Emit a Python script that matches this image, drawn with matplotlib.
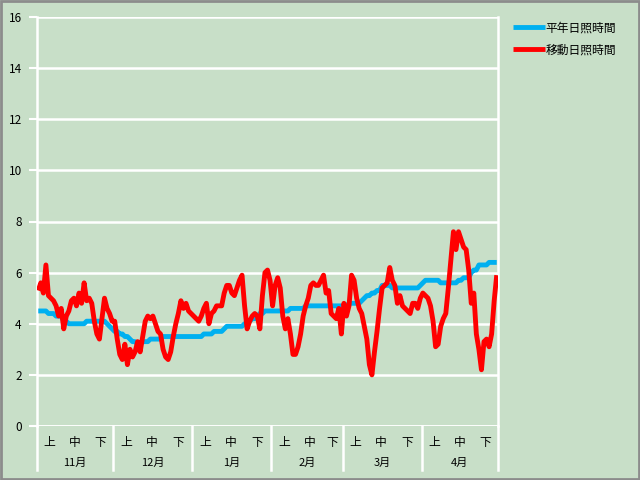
import matplotlib
matplotlib.use("Agg")
import matplotlib.pyplot as plt
import matplotlib.transforms as mtransforms
from matplotlib.patches import Rectangle
import numpy as np

plt.rcParams['font.family'] = ['Noto Sans CJK JP', 'DejaVu Sans']

months = ["11月", "12月", "1月", "2月", "3月", "4月"]
month_days = [30, 31, 31, 28, 31, 30]
dekads = ["上", "中", "下"]
series_names = ["平年日照時間", "移動日照時間"]

normal_nov = [4.5, 4.5, 4.5, 4.5, 4.4, 4.4, 4.4, 4.3, 4.3, 4.3, 4.1, 4.1, 4.0, 4.0, 4.0,
              4.0, 4.0, 4.0, 4.0, 4.1, 4.1, 4.1, 4.1, 4.1, 4.1, 4.1, 4.1, 4.0, 3.9, 3.8]
normal_dec = [3.7, 3.7, 3.6, 3.6, 3.5, 3.5, 3.4, 3.3, 3.3, 3.2, 3.2, 3.3, 3.3, 3.3, 3.4, 3.4,
              3.4, 3.4, 3.4, 3.5, 3.5, 3.5, 3.5, 3.5, 3.5, 3.5, 3.5, 3.5, 3.5, 3.5, 3.5]
normal_jan = [3.5, 3.5, 3.5, 3.5, 3.6, 3.6, 3.6, 3.6, 3.7, 3.7, 3.7, 3.7, 3.8, 3.9, 3.9, 3.9,
              3.9, 3.9, 3.9, 3.9, 4.0, 4.0, 4.1, 4.2, 4.2, 4.3, 4.4, 4.4, 4.5, 4.5, 4.5]
normal_feb = [4.5, 4.5, 4.5, 4.5, 4.5, 4.5, 4.5, 4.6, 4.6, 4.6, 4.6, 4.6, 4.6, 4.7,
              4.7, 4.7, 4.7, 4.7, 4.7, 4.7, 4.7, 4.7, 4.7, 4.7, 4.7, 4.7, 4.7, 4.7]
normal_mar = [4.7, 4.7, 4.8, 4.8, 4.8, 4.8, 4.8, 4.9, 5.0, 5.1, 5.1, 5.2, 5.2, 5.3, 5.3, 5.5,
              5.5, 5.5, 5.5, 5.4, 5.4, 5.4, 5.4, 5.4, 5.4, 5.4, 5.4, 5.4, 5.4, 5.4, 5.5]
normal_apr = [5.6, 5.7, 5.7, 5.7, 5.7, 5.7, 5.7, 5.6, 5.6, 5.6, 5.6, 5.6, 5.6, 5.6, 5.7,
              5.7, 5.8, 5.8, 5.8, 6.0, 6.1, 6.1, 6.3, 6.3, 6.3, 6.3, 6.4, 6.4, 6.4, 6.4]

moving_nov = [5.3, 5.6, 5.2, 6.3, 5.1, 5.0, 4.9, 4.7, 4.3, 4.6, 3.8, 4.3, 4.5, 4.9, 5.0,
              4.7, 5.2, 4.8, 5.6, 4.9, 5.0, 4.8, 4.1, 3.6, 3.4, 4.2, 5.0, 4.6, 4.4, 4.1]
moving_dec = [4.1, 3.4, 2.8, 2.6, 3.2, 2.4, 3.0, 2.7, 2.9, 3.3, 2.9, 3.5, 4.1, 4.3, 4.2, 4.3,
              4.0, 3.7, 3.6, 3.0, 2.7, 2.6, 2.9, 3.5, 4.0, 4.4, 4.9, 4.6, 4.8, 4.5, 4.4]
moving_jan = [4.3, 4.2, 4.1, 4.3, 4.6, 4.8, 4.0, 4.4, 4.5, 4.7, 4.7, 4.7, 5.2, 5.5, 5.5, 5.2,
              5.1, 5.4, 5.7, 5.9, 4.7, 3.8, 4.1, 4.3, 4.4, 4.3, 3.8, 5.1, 6.0, 6.1, 5.7]
moving_feb = [4.7, 5.5, 5.8, 5.4, 4.3, 3.8, 4.2, 3.6, 2.8, 2.8, 3.1, 3.6, 4.3, 4.7,
              5.0, 5.5, 5.6, 5.5, 5.5, 5.7, 5.9, 5.2, 5.3, 4.4, 4.3, 4.2, 4.6, 3.6]
moving_mar = [4.8, 4.3, 4.7, 5.9, 5.7, 5.0, 4.6, 4.4, 3.9, 3.4, 2.4, 2.0, 2.9, 3.7, 4.6, 5.4,
              5.5, 5.6, 6.2, 5.7, 5.5, 4.8, 5.1, 4.7, 4.6, 4.5, 4.4, 4.8, 4.8, 4.6, 5.0]
moving_apr = [5.2, 5.1, 5.0, 4.7, 4.1, 3.1, 3.2, 3.9, 4.2, 4.4, 5.4, 6.5, 7.6, 6.9, 7.6,
              7.3, 7.0, 6.9, 6.1, 4.8, 5.2, 3.6, 3.0, 2.2, 3.3, 3.4, 3.1, 3.6, 4.9, 5.9]

normal = normal_nov + normal_dec + normal_jan + normal_feb + normal_mar + normal_apr
moving = moving_nov + moving_dec + moving_jan + moving_feb + moving_mar + moving_apr

BG = "#C8DFC8"
fig = plt.figure(figsize=(6.4, 4.8), dpi=100, facecolor=BG)
ax = fig.add_axes([37/640, 1-426/480, (498-37)/640, (426-17)/480], facecolor=BG)

x = np.arange(len(normal))
ax.plot(x, normal, color="#00B0F0", lw=3.5, solid_capstyle='butt', label=series_names[0], zorder=3)
ax.plot(x, moving, color="#FF0000", lw=3.5, solid_capstyle='butt', label=series_names[1], zorder=4)

ax.set_xlim(-0.5, len(normal) - 0.5)
ax.set_ylim(0, 16)
ax.set_yticks(range(0, 17, 2))
ax.grid(axis='y', color='white', lw=1.8)
ax.set_axisbelow(True)
for s in ['top', 'bottom']:
    ax.spines[s].set_visible(False)
ax.spines['left'].set_color('white')
ax.spines['left'].set_linewidth(1.8)
ax.spines['right'].set_color('white')
ax.spines['right'].set_linewidth(1.8)
ax.tick_params(axis='y', colors='white', length=6, width=1.5, labelcolor='black', labelsize=8.5, pad=5)

# dekad ticks
starts = np.cumsum([0] + month_days[:-1])
tick_pos, tick_lab = [], []
for st, nd in zip(starts, month_days):
    tick_pos += [st + 4.5, st + 14.5, st + 10 + 10 + (nd - 20) / 2 - 0.5]
    tick_lab += dekads
ax.set_xticks(tick_pos)
ax.set_xticklabels(tick_lab)
ax.tick_params(axis='x', length=0, labelsize=8.5, pad=7)

trans = mtransforms.blended_transform_factory(ax.transData, ax.transAxes)
bounds = list(starts - 0.5) + [len(normal) - 0.5]
for b in bounds:
    ax.plot([b, b], [0, -0.108], transform=trans, color='white', lw=1.8, clip_on=False)
ax.axhline(0, color='white', lw=1.8)
for st, nd, m in zip(starts, month_days, months):
    ax.text(st + nd / 2 - 0.5, -0.09, m, transform=trans, ha='center', va='center', fontsize=8)

fig.legend(loc='upper left', bbox_to_anchor=(502/640, 1-11/480), frameon=False, fontsize=8.5,
           handlelength=2.7, handletextpad=0.1, labelspacing=0.75)

fig.patches.append(Rectangle((0.002, 0.002), 0.996, 0.996, transform=fig.transFigure,
                             fill=False, edgecolor='#8C8C8C', lw=2))

fig.savefig("out.png", dpi=100, facecolor=BG)
